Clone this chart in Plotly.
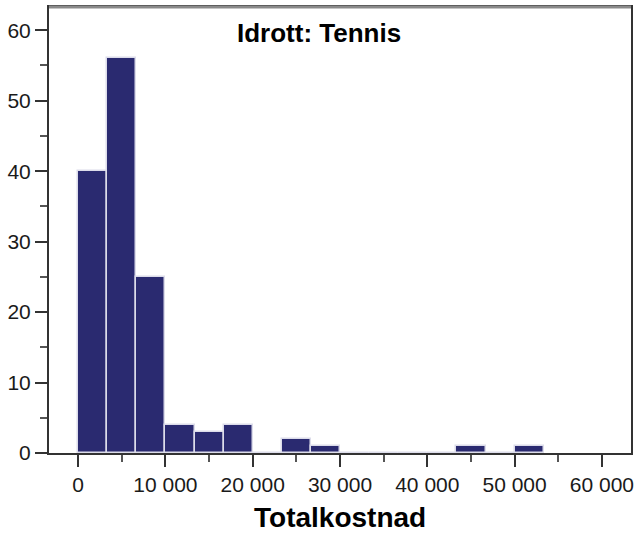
import plotly.graph_objects as go

# Data
bin_width = 10000 / 3
bin_starts = [i * bin_width for i in range(16)]
counts = [40, 56, 25, 4, 3, 4, 0, 2, 1, 0, 0, 0, 0, 1, 0, 1]
x_tickvals = [0, 10000, 20000, 30000, 40000, 50000, 60000]
y_tickvals = [0, 10, 20, 30, 40, 50, 60]
title_text = "Idrott: Tennis"
x_title = "Totalkostnad"

centers = [s + bin_width / 2 for s in bin_starts]

fig = go.Figure(go.Bar(
    x=centers, y=counts, width=[bin_width] * len(counts),
    marker=dict(color="#2a2a70", line=dict(color="#dcdcea", width=1.5)),
    hoverinfo="skip",
))

font_family = "Liberation Sans, Arial, sans-serif"

fig.update_layout(
    width=639, height=533,
    margin=dict(l=49, r=5, t=7, b=80),
    paper_bgcolor="white", plot_bgcolor="white",
    showlegend=False,
    bargap=0,
    separators=". ",
    font=dict(family=font_family, size=21, color="#1a1a1a"),
    xaxis=dict(
        range=[-10000 / 3, 190000 / 3],
        tickvals=x_tickvals, tickformat=",d",
        ticks="outside", ticklen=12, tickwidth=2, tickcolor="#333",
        minor=dict(dtick=5000, tick0=0, ticks="outside", ticklen=7, tickwidth=2, tickcolor="#555"),
        showline=True, linecolor="#333", linewidth=2, mirror=True,
        showgrid=False, zeroline=False,
        tickfont=dict(size=21),
    ),
    yaxis=dict(
        range=[0, 63.3],
        tickvals=y_tickvals,
        ticks="outside", ticklen=12, tickwidth=2, tickcolor="#333",
        minor=dict(dtick=5, tick0=0, ticks="outside", ticklen=7, tickwidth=2, tickcolor="#555"),
        showline=True, linecolor="#333", linewidth=2, mirror=True,
        showgrid=False, zeroline=False,
        tickfont=dict(size=21),
    ),
    annotations=[
        dict(text="<b>" + title_text + "</b>", xref="paper", yref="paper",
             x=(320 - 49) / 585, y=(453 - 33) / 446, xanchor="center", yanchor="middle",
             showarrow=False, font=dict(size=26, color="black", family=font_family)),
        dict(text="<b>" + x_title + "</b>", xref="paper", yref="paper",
             x=0.5, y=(453 - 517) / 446, xanchor="center", yanchor="middle",
             showarrow=False, font=dict(size=28, color="black", family=font_family)),
    ],
    shapes=[
        dict(type="line", xref="paper", yref="paper", x0=0, x1=1, y0=1, y1=1,
             line=dict(color="#8a8a8a", width=3)),
    ],
)

fig.write_html("out.html",
               config={"displayModeBar": False},
               post_script="document.body.style.margin='0';document.body.style.overflow='hidden';")
